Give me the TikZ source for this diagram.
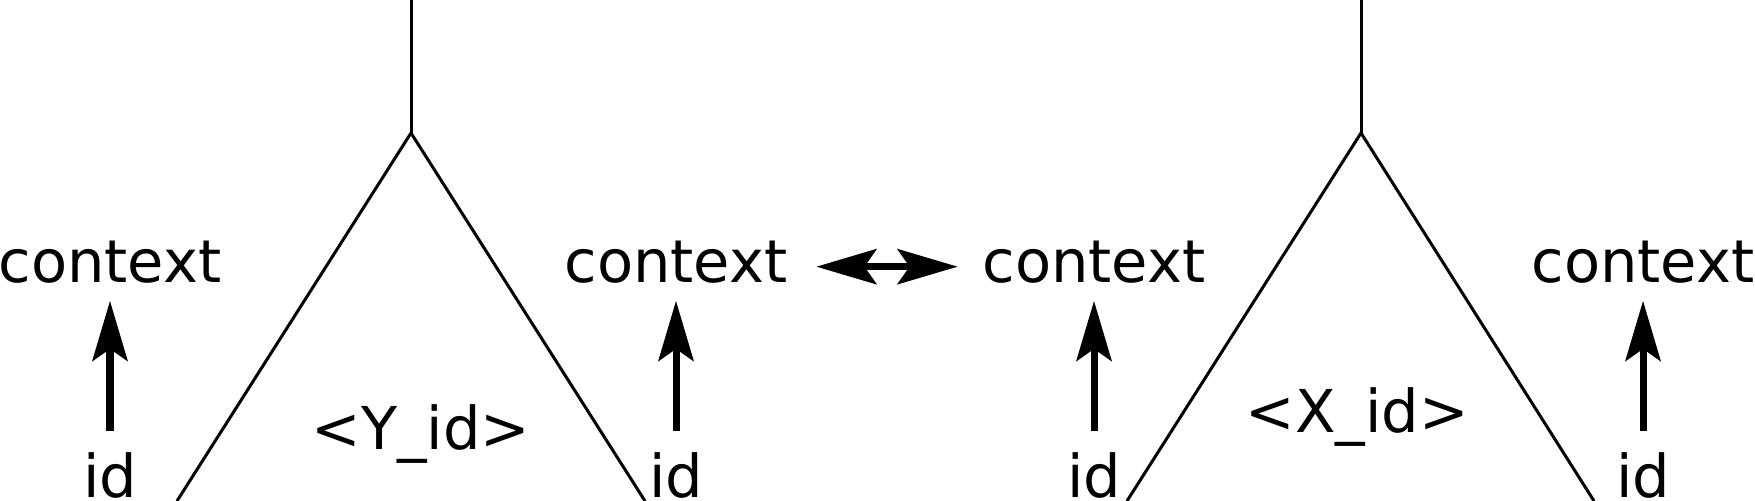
\documentclass[tikz,border=0pt]{standalone}
\usepackage{fontspec}
\setmainfont{DejaVu Sans}
\usetikzlibrary{arrows.meta}
\begin{document}
\begin{tikzpicture}[x=0.01cm,y=-0.01cm]
\tikzstyle{lbl}=[font=\fontsize{16.8pt}{20pt}\selectfont,inner sep=0pt,outer sep=0.22cm,anchor=base]
\tikzstyle{tree}=[line width=0.03cm,line join=miter]
\tikzstyle{link}=[line width=0.07cm,>={Stealth[length=0.6cm,width=0.35cm,inset=0.12cm]}]
\useasboundingbox (0,0) rectangle (1755,501);
% the two trees
\coordinate (ytop) at (411,0);
\coordinate (yroot) at (411,133);
\coordinate (yleft) at (177,501);
\coordinate (yright) at (645,501);
\coordinate (xtop) at (1361,0);
\coordinate (xroot) at (1361,133);
\coordinate (xleft) at (1127,501);
\coordinate (xright) at (1594,501);
\draw[tree] (ytop) -- (yroot);
\draw[tree] (yleft) -- (yroot) -- (yright);
\draw[tree] (xtop) -- (xroot);
\draw[tree] (xleft) -- (xroot) -- (xright);
\node[lbl] (ylabel) at (421,450) {<Y\_id>};
\node[lbl] (xlabel) at (1357,433) {<X\_id>};
\node[lbl] (ctx1) at (110,283) {context};
\node[lbl] (ctx2) at (676,283) {context};
\node[lbl] (ctx3) at (1094,283) {context};
\node[lbl] (ctx4) at (1643,283) {context};
\node[lbl] (id1) at (110,498) {id};
\node[lbl] (id2) at (676,498) {id};
\node[lbl] (id3) at (1094,498) {id};
\node[lbl] (id4) at (1643,498) {id};
\draw[link,->,shorten >=-0.05cm] (id1.north) -- (ctx1.south);
\draw[link,->,shorten >=-0.05cm] (id2.north) -- (ctx2.south);
\draw[link,->,shorten >=-0.05cm] (id3.north) -- (ctx3.south);
\draw[link,->,shorten >=-0.05cm] (id4.north) -- (ctx4.south);
\draw[link,<->,shorten <=0.07cm,shorten >=0.03cm] ([yshift=-0.04cm]ctx2.east) -- ([yshift=-0.04cm]ctx3.west);
\end{tikzpicture}
\end{document}
